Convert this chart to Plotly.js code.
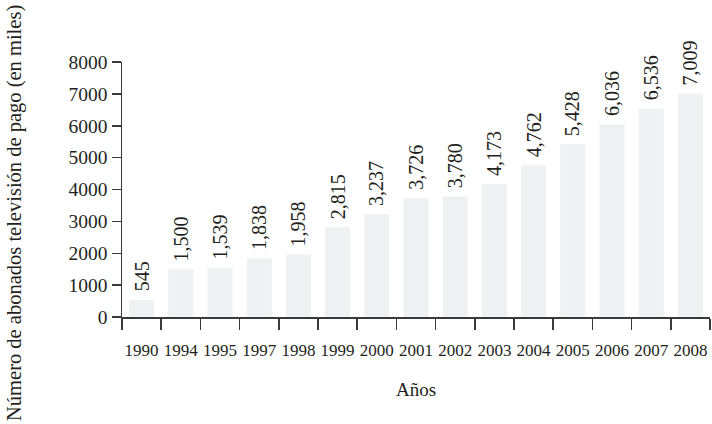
<!DOCTYPE html>
<html>
<head>
<meta charset="utf-8">
<script src="https://cdn.plot.ly/plotly-3.0.1.min.js"></script>
<style>html,body{margin:0;padding:0;background:#fff;}#chart{width:712px;height:424px;}</style>
</head>
<body>
<div id="chart"></div>
<script>
const years = ["1990","1994","1995","1997","1998","1999","2000","2001","2002","2003","2004","2005","2006","2007","2008"];
const subscribers = [545,1500,1539,1838,1958,2815,3237,3726,3780,4173,4762,5428,6036,6536,7009];
const valueLabels = ["545","1,500","1,539","1,838","1,958","2,815","3,237","3,726","3,780","4,173","4,762","5,428","6,036","6,536","7,009"];
const yTicks = [0,1000,2000,3000,4000,5000,6000,7000,8000];

const FONT = "Liberation Serif, Times New Roman, serif";
const TXT = "#231f20";

const annotations = years.map((y, i) => ({
  x: i, y: subscribers[i], xref: "x", yref: "y",
  text: valueLabels[i], textangle: -90, showarrow: false,
  xanchor: "center", yanchor: "bottom", yshift: 6,
  font: {family: FONT, size: 20, color: TXT}
}));
annotations.push({
  x: -0.182, y: 0.408, xref: "paper", yref: "paper",
  text: "Número de abonados televisión de pago (en miles)",
  textangle: -90, showarrow: false, xanchor: "center", yanchor: "middle",
  font: {family: FONT, size: 20.5, color: TXT}
});

const trace = {
  type: "bar", x: years, y: subscribers,
  marker: {color: "#f0f1f3"},
  hoverinfo: "skip"
};

const layout = {
  width: 712, height: 424,
  margin: {l: 122, r: 2, t: 62, b: 107},
  paper_bgcolor: "#fff", plot_bgcolor: "#fff",
  showlegend: false,
  bargap: 0.36,
  font: {family: FONT, color: TXT},
  xaxis: {
    type: "category", range: [-0.5, years.length - 0.5], tickangle: 0,
    showline: true, linecolor: "#3a3a3a", linewidth: 1.5,
    ticks: "outside", tickson: "boundaries", ticklen: 11, tickwidth: 1.5, tickcolor: "#3a3a3a",
    ticklabelstandoff: 17,
    showgrid: false, zeroline: false,
    tickfont: {family: FONT, size: 17, color: TXT},
    title: {text: "Años", font: {family: FONT, size: 19, color: TXT}, standoff: 24}
  },
  yaxis: {
    range: [0, 8000], tickvals: yTicks, ticktext: yTicks.map(String),
    showline: true, linecolor: "#3a3a3a", linewidth: 1.5,
    ticks: "outside", ticklen: 9, tickwidth: 1.5, tickcolor: "#3a3a3a",
    showgrid: false, zeroline: false,
    tickfont: {family: FONT, size: 19.5, color: TXT}
  },
  annotations: annotations
};

Plotly.newPlot("chart", [trace], layout, {staticPlot: true, displayModeBar: false});
</script>
</body>
</html>
